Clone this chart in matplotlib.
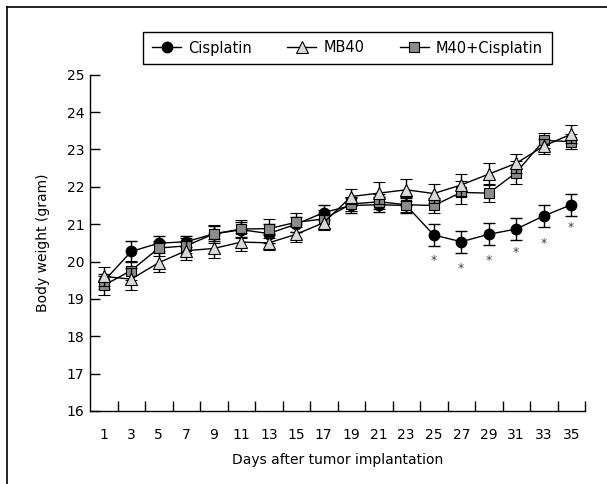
import matplotlib.pyplot as plt
from matplotlib.lines import Line2D

days = [1, 3, 5, 7, 9, 11, 13, 15, 17, 19, 21, 23, 25, 27, 29, 31, 33, 35]

cisplatin = [19.47, 20.27, 20.49, 20.53, 20.74, 20.85, 20.75, 21.0, 21.31,
             21.5, 21.52, 21.5, 20.71, 20.53, 20.73, 20.87, 21.22, 21.52]
cisplatin_err = [0.2, 0.28, 0.2, 0.15, 0.2, 0.2, 0.25, 0.2, 0.2,
                 0.2, 0.2, 0.2, 0.3, 0.3, 0.3, 0.3, 0.3, 0.3]

mb40 = [19.6, 19.53, 19.97, 20.29, 20.35, 20.52, 20.5, 20.73, 21.04,
        21.74, 21.83, 21.92, 21.82, 22.05, 22.34, 22.63, 23.09, 23.41]
mb40_err = [0.25, 0.3, 0.25, 0.25, 0.25, 0.25, 0.2, 0.2, 0.2,
            0.2, 0.3, 0.3, 0.25, 0.3, 0.3, 0.25, 0.2, 0.25]

combo = [19.36, 19.76, 20.36, 20.42, 20.74, 20.87, 20.88, 21.05, 21.14,
         21.54, 21.6, 21.52, 21.5, 21.85, 21.83, 22.38, 23.24, 23.21]
combo_err = [0.25, 0.25, 0.2, 0.2, 0.25, 0.25, 0.25, 0.25, 0.25,
             0.2, 0.2, 0.2, 0.2, 0.3, 0.25, 0.3, 0.2, 0.2]

star_days = [25, 27, 29, 31, 33, 35]
star_y = [20.03, 19.82, 20.03, 20.24, 20.47, 20.91]

y_ticks = [16, 17, 18, 19, 20, 21, 22, 23, 24, 25]

plt.rcParams["font.family"] = ["DejaVu Sans"]

fig = plt.figure(figsize=(6.07, 4.84), dpi=100)
ax = fig.add_axes([90 / 607, 73 / 484, 495 / 607, 336.3 / 484])

# outer frame (only left and top edges visible in the reference)
W, H = 607, 484
fig.add_artist(Line2D([6.5 / W, 6.5 / W], [0, 1 - 7 / H], transform=fig.transFigure,
                      color="black", lw=1.2))
fig.add_artist(Line2D([6.5 / W, 1], [1 - 7 / H, 1 - 7 / H], transform=fig.transFigure,
                      color="black", lw=1.2))

common = dict(color="black", lw=1.0, ecolor="black", elinewidth=1.0, capsize=4, capthick=1.0)
styles = {
    "cis": dict(marker="o", ms=7.5, mfc="black", mec="black"),
    "combo": dict(marker="s", ms=7, mfc="#8c8c8c", mec="black", mew=0.8),
    "mb": dict(marker="^", ms=8.5, mfc="#d9d9d9", mec="black", mew=0.8),
}
ax.errorbar(days, cisplatin, yerr=cisplatin_err, zorder=3, **styles["cis"], **common)
ax.errorbar(days, combo, yerr=combo_err, zorder=4, **styles["combo"], **common)
ax.errorbar(days, mb40, yerr=mb40_err, zorder=5, **styles["mb"], **common)

for d, y in zip(star_days, star_y):
    ax.text(d, y, "*", ha="center", va="center", fontsize=9, color="#444444")

ax.set_xlim(0, 36)
ax.set_ylim(16, 25)
ax.set_yticks(y_ticks)
ax.set_xticks(range(2, 37, 2))
ax.set_xticklabels([])
ax.set_xticks(days, minor=True)
ax.set_xticklabels([str(d) for d in days], minor=True)
ax.tick_params(axis="x", which="minor", length=0, pad=12, labelsize=10)
ax.tick_params(axis="x", which="major", direction="in", length=7, width=1)
ax.tick_params(axis="y", direction="in", length=7, width=1, pad=4, labelsize=10)
ax.spines["top"].set_visible(False)
ax.spines["right"].set_visible(False)
for s in ("left", "bottom"):
    ax.spines[s].set_linewidth(1.0)

ax.set_xlabel("Days after tumor implantation", fontsize=10, labelpad=8)
ax.set_ylabel("Body weight (gram)", fontsize=10, labelpad=12)

handles = [Line2D([], [], color="black", lw=1.0, **styles[k]) for k in ("cis", "mb", "combo")]
fig.legend(handles, ["Cisplatin", "MB40", "M40+Cisplatin"],
           ncol=3, loc="center", bbox_to_anchor=(347.5 / W, 1 - 48 / H),
           frameon=True, fancybox=False, edgecolor="black", framealpha=1,
           fontsize=10.5, handlelength=2.0, columnspacing=2.4,
           borderpad=0.6, borderaxespad=0, handletextpad=0.5)

fig.savefig("out.png", dpi=100)
